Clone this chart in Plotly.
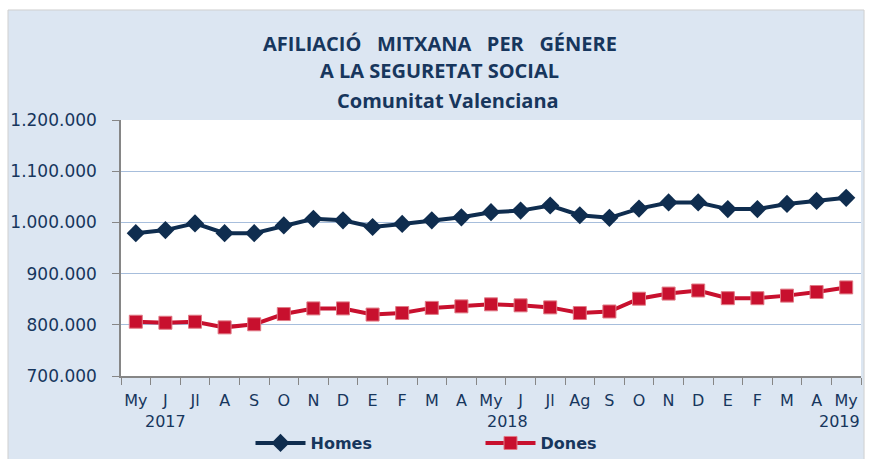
import plotly.graph_objects as go

months = ["My", "J", "Jl", "A", "S", "O", "N", "D", "E", "F", "M", "A",
          "My", "J", "Jl", "Ag", "S", "O", "N", "D", "E", "F", "M", "A", "My"]
homes = [979000, 985000, 998000, 979000, 979000, 994000, 1007000, 1004000, 991000, 997000,
         1004000, 1010000, 1020000, 1023000, 1033000, 1014000, 1009000, 1027000, 1039000,
         1039000, 1026000, 1026000, 1036000, 1042000, 1048000]
dones = [806000, 804000, 806000, 795000, 801000, 821000, 832000, 832000, 820000, 823000,
         833000, 836000, 840000, 838000, 834000, 823000, 826000, 851000, 861000, 867000,
         852000, 852000, 857000, 864000, 873000]
years = ["2017", "2018", "2019"]
title_lines = ["AFILIACIÓ\u00a0\u00a0 MITXANA\u00a0\u00a0 PER\u00a0\u00a0 GÉNERE",
               "A LA SEGURETAT SOCIAL", "Comunitat Valenciana"]

idx = list(range(len(months)))
navy = "#0f2d4f"
red = "#c8102e"
txt = "#17365d"
axis_grey = "#868686"

fig = go.Figure()
fig.add_trace(go.Scatter(
    x=idx, y=homes, name="Homes", mode="lines+markers",
    line=dict(color=navy, width=4),
    marker=dict(symbol="diamond", size=14, color=navy),
))
fig.add_trace(go.Scatter(
    x=idx, y=dones, name="Dones", mode="lines+markers",
    line=dict(color=red, width=4),
    marker=dict(symbol="square", size=13, color=red, line=dict(color="#e07a86", width=1)),
))

shapes = [
    dict(type="rect", xref="paper", yref="paper", x0=-0.1527, x1=1.0041, y0=-0.36, y1=1.4297,
         fillcolor="#dce6f2", line=dict(color="#cfcfcf", width=1), layer="below"),
    dict(type="rect", xref="paper", yref="paper", x0=0, x1=1, y0=0, y1=1,
         fillcolor="white", line=dict(width=0), layer="below"),
]

annotations = []
for t, xx, yy in zip(title_lines, [0.431, 0.431, 0.442], [1.297, 1.195, 1.078]):
    annotations.append(dict(text=t, x=xx, y=yy, xref="paper", yref="paper",
                            showarrow=False, xanchor="center", yanchor="middle",
                            font=dict(family="Open Sans", size=20, color=txt, weight="bold")))
for t, xx in zip(years, [1.02, 12.57, 23.78]):
    annotations.append(dict(text=t, x=xx, y=-0.178, xref="x", yref="paper",
                            showarrow=False, xanchor="center", yanchor="middle",
                            font=dict(family="DejaVu Sans", size=16, color=txt)))

fig.update_layout(
    width=870, height=459,
    margin=dict(l=121, r=9, t=120, b=83, autoexpand=False),
    paper_bgcolor="white", plot_bgcolor="white",
    separators=",.",
    shapes=shapes, annotations=annotations,
    showlegend=True,
    legend=dict(orientation="h", x=0.175, y=-0.262, xanchor="left", yanchor="middle",
                bgcolor="rgba(0,0,0,0)", entrywidth=165, entrywidthmode="pixels",
                itemwidth=50,
                font=dict(family="DejaVu Sans", size=16, color=txt, weight="bold")),
    xaxis=dict(type="linear", range=[-0.5, 24.5], tickmode="array", tickvals=idx, ticktext=months,
               showgrid=False, showline=True, linecolor=axis_grey, linewidth=1.5,
               ticks="", ticklabelstandoff=9,
               tickfont=dict(family="DejaVu Sans", size=16, color=txt),
               zeroline=False,
               minor=dict(tickmode="array", tickvals=[i - 0.5 for i in idx] + [24.5],
                          ticks="outside", ticklen=7, tickcolor=axis_grey, showgrid=False)),
    yaxis=dict(range=[700000, 1200000], dtick=100000, tickformat=",d",
               showgrid=True, gridcolor="#a7bedc", gridwidth=1.2,
               showline=True, linecolor=axis_grey, linewidth=1.5,
               ticks="outside", ticklen=7, tickcolor=axis_grey, ticklabelstandoff=12,
               tickfont=dict(family="DejaVu Sans", size=17, color=txt), zeroline=False),
)

post = "document.body.style.margin='0';"
fig.write_html("out.html", post_script=post, config={"displayModeBar": False})
